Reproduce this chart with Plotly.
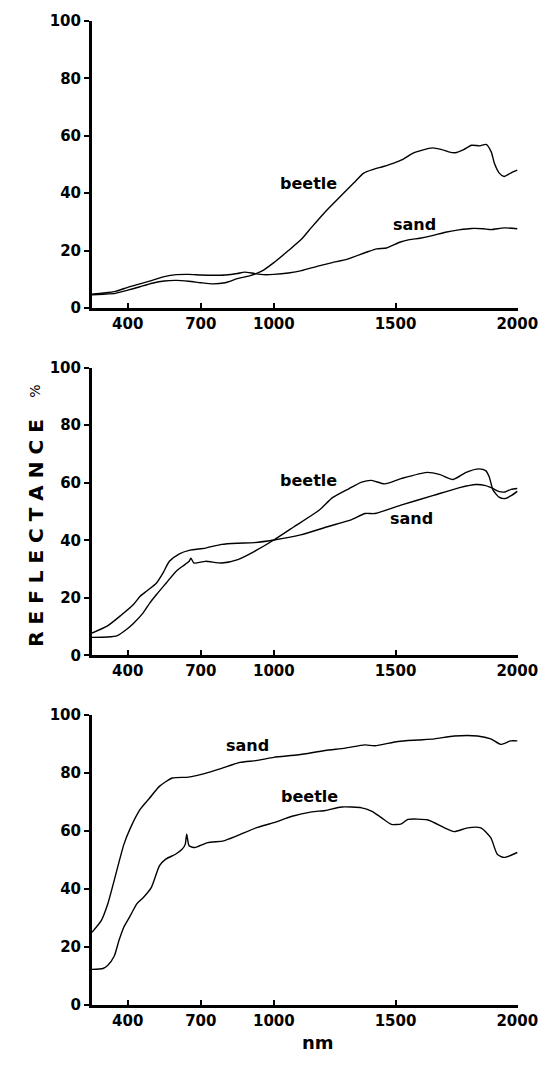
import plotly.graph_objects as go

# ---------------- data (wavelength nm, reflectance %) ----------------
p1_sand_nm = [253, 300, 350, 400, 450, 500, 550, 600, 650, 700, 750, 800, 850, 880, 920, 960, 1000,
              1060, 1114, 1181, 1240, 1302, 1383, 1423, 1463, 1517, 1557, 1600, 1651, 1705, 1760,
              1812, 1860, 1893, 1946, 2000]
p1_sand = [4.8, 5.2, 5.8, 7.2, 8.4, 9.6, 10.9, 11.6, 11.7, 11.5, 11.4, 11.5, 12.0, 12.5, 12.0, 11.6, 11.7,
           12.2, 13.0, 14.6, 15.8, 17.0, 19.5, 20.6, 20.9, 22.9, 23.8, 24.3, 25.2, 26.4, 27.2,
           27.7, 27.6, 27.3, 27.9, 27.6]

p1_beetle_nm = [253, 300, 350, 400, 450, 500, 550, 600, 650, 700, 750, 800, 850, 900, 950, 1000,
                1060, 1114, 1154, 1208, 1275, 1329, 1369, 1409, 1450, 1490, 1530, 1570, 1610, 1651,
                1690, 1718, 1745, 1780, 1812, 1846, 1872, 1893, 1906, 1926, 1946, 1973, 2000]
p1_beetle = [4.6, 4.8, 5.1, 6.2, 7.4, 8.6, 9.4, 9.6, 9.3, 8.8, 8.4, 8.8, 10.2, 11.2, 12.8, 15.8,
             20.0, 24.0, 28.0, 33.2, 39.0, 43.6, 47.0, 48.3, 49.3, 50.4, 51.8, 53.9, 55.0, 55.8,
             55.2, 54.4, 54.1, 55.2, 56.7, 56.5, 57.0, 54.4, 50.4, 47.0, 45.8, 47.0, 48.0]

p2_sand_nm = [253, 317, 370, 424, 451, 478, 518, 545, 571, 612, 652, 719, 786, 852, 919, 1000,
              1110, 1220, 1320, 1375, 1415, 1522, 1656, 1763, 1830, 1870, 1900, 1923, 1950, 1975, 2000]
p2_sand = [7.8, 10.3, 13.8, 17.8, 20.6, 22.4, 25.2, 28.7, 32.7, 35.3, 36.5, 37.3, 38.6, 39.0, 39.2, 40.1,
           41.9, 44.7, 47.2, 49.3, 49.3, 52.2, 55.6, 58.3, 59.4, 59.0, 58.0, 57.0, 56.8, 57.7, 58.0]

p2_beetle_nm = [253, 317, 357, 397, 424, 464, 491, 518, 558, 598, 625, 652, 659, 672, 719, 786, 852,
                919, 1000, 1083, 1187, 1241, 1308, 1361, 1401, 1455, 1522, 1629, 1683, 1736, 1790,
                1843, 1870, 1885, 1900, 1925, 1950, 1975, 2000]
p2_beetle = [6.3, 6.4, 6.9, 9.2, 11.2, 14.9, 18.3, 21.2, 25.2, 29.2, 31.0, 32.7, 33.8, 32.1, 32.7, 32.1, 33.3,
             36.1, 40.1, 44.7, 50.5, 54.8, 57.9, 60.2, 60.8, 59.6, 61.4, 63.6, 62.8, 61.1, 63.6,
             64.8, 64.2, 62.0, 57.5, 55.0, 54.5, 55.5, 57.0]

p3_sand_nm = [253, 291, 318, 344, 384, 411, 450, 490, 530, 583, 649, 715, 782, 861, 927, 1000,
              1102, 1211, 1293, 1374, 1415, 1510, 1592, 1660, 1741, 1837, 1891, 1932, 1973, 2000]
p3_sand = [25.1, 29.1, 34.9, 42.9, 55.4, 61.1, 67.4, 71.4, 75.4, 78.3, 78.6, 79.8, 81.5, 83.7, 84.3, 85.4,
           86.3, 87.8, 88.6, 89.7, 89.4, 90.9, 91.4, 91.8, 92.8, 92.8, 91.8, 89.9, 91.1, 91.1]

p3_beetle_nm = [253, 298, 318, 344, 364, 384, 411, 437, 464, 497, 530, 556, 596, 623, 636, 642, 652,
                675, 728, 794, 848, 927, 1000, 1075, 1156, 1211, 1279, 1361, 1401, 1442, 1483, 1524,
                1551, 1633, 1701, 1741, 1796, 1850, 1891, 1918, 1946, 2000]
p3_beetle = [12.3, 12.6, 13.7, 16.8, 22.3, 26.9, 30.9, 34.9, 37.1, 40.6, 48.0, 50.3, 52.0, 53.7, 55.4, 58.9, 54.9,
             54.3, 56.0, 56.6, 58.3, 61.1, 62.9, 65.1, 66.6, 67.1, 68.3, 68.0, 66.9, 64.6, 62.3, 62.5,
             64.0, 63.8, 61.1, 59.8, 61.1, 61.1, 57.7, 52.0, 50.9, 52.6]

x_ticks = [400, 700, 1000, 1500, 2000]
y_ticks = [0, 20, 40, 60, 80, 100]

# label positions in data coordinates: (beetle label), (sand label)
label_pos = [((1142, 43.3), (1579, 29.2)),
             ((1144, 60.8), (1566, 47.6)),
             ((1147, 71.9), (893, 89.4))]

panels = [
    (p1_sand_nm, p1_sand, p1_beetle_nm, p1_beetle),
    (p2_sand_nm, p2_sand, p2_beetle_nm, p2_beetle),
    (p3_sand_nm, p3_sand, p3_beetle_nm, p3_beetle),
]

# ---------------- layout geometry ----------------
W, H = 550, 1068
ML, MR, MT, MB = 92, 23, 14, 63
PH = H - MT - MB
panel_px = [(14, 303), (363, 653), (713, 1005)]


def dom(top, bot):
    return [1 - (bot - MT) / PH, 1 - (top - MT) / PH]


FONT = "DejaVu Sans"
fig = go.Figure()
layout = dict(width=W, height=H, margin=dict(l=ML, r=MR, t=MT, b=MB),
              paper_bgcolor="white", plot_bgcolor="white", showlegend=False,
              font=dict(family=FONT, color="black"))
annotations = []

for i, (sx, sy, bx, by) in enumerate(panels):
    blab, slab = label_pos[i]
    n = "" if i == 0 else str(i + 1)
    xa, ya = "x" + n, "y" + n
    fig.add_trace(go.Scatter(x=sx, y=sy, mode="lines",
                             line=dict(color="black", width=1.4, shape="spline", smoothing=0.6),
                             xaxis=xa, yaxis=ya, name="sand"))
    fig.add_trace(go.Scatter(x=bx, y=by, mode="lines",
                             line=dict(color="black", width=1.4, shape="spline", smoothing=0.6),
                             xaxis=xa, yaxis=ya, name="beetle"))
    layout["xaxis" + n] = dict(domain=[0, 1], anchor=ya, range=[253, 2003], tickvals=x_ticks,
                               ticktext=[str(v) for v in x_ticks], ticks="inside", ticklen=5, tickwidth=2,
                               tickcolor="black", showline=True, linewidth=3, linecolor="black",
                               showgrid=False, zeroline=False,
                               tickfont=dict(family=FONT, size=15, color="black", weight="bold"))
    layout["yaxis" + n] = dict(domain=dom(*panel_px[i]), anchor=xa, range=[0, 100], tickvals=y_ticks,
                               ticks="outside", ticklen=5, tickwidth=2, tickcolor="black",
                               showline=True, linewidth=3, linecolor="black", showgrid=False, zeroline=False,
                               tickfont=dict(family=FONT, size=15, color="black", weight="bold"))
    annotations.append(dict(x=blab[0], y=blab[1], xref=xa, yref=ya, text="beetle", showarrow=False,
                            font=dict(family=FONT, size=16, color="black", weight="bold")))
    annotations.append(dict(x=slab[0], y=slab[1], xref=xa, yref=ya, text="sand", showarrow=False,
                            font=dict(family=FONT, size=16, color="black", weight="bold")))

annotations.append(dict(x=(21 - ML) / (W - ML - MR), y=1 - (529 - MT) / PH, xref="paper", yref="paper",
                        text="R E F L E C T A N C E", textangle=-90, showarrow=False,
                        font=dict(family=FONT, size=20, color="black", weight="bold")))
annotations.append(dict(x=(24 - ML) / (W - ML - MR), y=1 - (387 - MT) / PH, xref="paper", yref="paper",
                        text="%", textangle=-90, showarrow=False,
                        font=dict(family=FONT, size=14, color="black")))
annotations.append(dict(x=(323 - ML) / (W - ML - MR), y=1 - (1055 - MT) / PH, xref="paper", yref="paper",
                        text="nm", showarrow=False,
                        font=dict(family=FONT, size=18, color="black", weight="bold")))
layout["annotations"] = annotations
fig.update_layout(**layout)
fig.write_html("out.html", config={"displayModeBar": False},
               post_script="document.body.style.margin='0px';document.body.style.overflow='hidden';")
